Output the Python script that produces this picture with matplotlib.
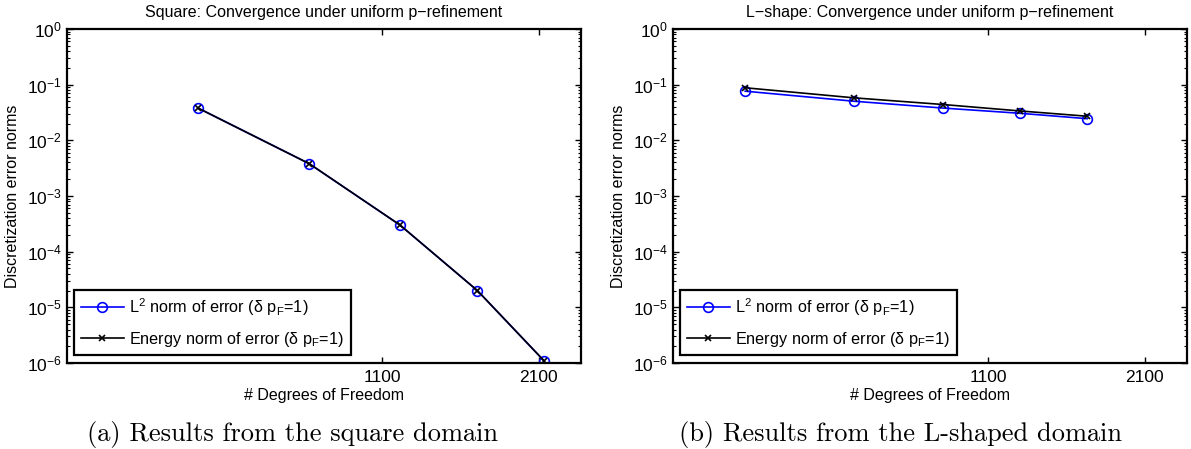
import matplotlib
matplotlib.use("Agg")
import matplotlib.pyplot as plt
from matplotlib.ticker import NullLocator, LogLocator

plt.rcParams['font.family'] = ['Liberation Sans', 'DejaVu Sans']
plt.rcParams['mathtext.default'] = 'regular'
plt.rcParams['font.size'] = 11.5

# datos
dof_square = [515, 815, 1185, 1630, 2145]
l2_square = [0.038, 0.0038, 3.0e-4, 2.0e-5, 1.1e-6]
energy_square = [0.038, 0.0038, 3.0e-4, 2.0e-5, 1.1e-6]

dof_lshape = [404, 633, 914, 1256, 1656]
l2_lshape = [0.0764, 0.0504, 0.038, 0.0306, 0.0245]
energy_lshape = [0.088, 0.058, 0.044, 0.0337, 0.0271]

x_ticks = [1100, 2100]
x_tick_labels = ['1100', '2100']

titles = ['Square: Convergence under uniform p\u2212refinement',
          'L\u2212shape: Convergence under uniform p\u2212refinement']
captions = ['(a) Results from the square domain',
            '(b) Results from the L-shaped domain']
lbl_l2 = 'L$^{2}$ norm of error (\u03b4 p$_{F}$=1)'
lbl_energy = 'Energy norm of error (\u03b4 p$_{F}$=1)'

fig = plt.figure(figsize=(11.91, 4.49), dpi=100)
ax1 = fig.add_axes([0.0563, 0.1915, 0.4316, 0.7439])
ax2 = fig.add_axes([0.5651, 0.1915, 0.4316, 0.7439])

datos = [(ax1, dof_square, l2_square, energy_square),
         (ax2, dof_lshape, l2_lshape, energy_lshape)]

for i, (ax, dof, l2, en) in enumerate(datos):
    ax.loglog(dof, l2, color='blue', marker='o', markersize=7,
              markerfacecolor='none', markeredgewidth=1.2, linewidth=1.2,
              label=lbl_l2)
    ax.loglog(dof, en, color='black', marker='x', markersize=5,
              markeredgewidth=1.2, linewidth=1.2, label=lbl_energy)
    ax.set_xlim(300, 2500)
    ax.set_ylim(1e-6, 1)
    ax.set_xticks(x_ticks, labels=x_tick_labels)
    ax.xaxis.set_minor_locator(NullLocator())
    ax.yaxis.set_major_locator(LogLocator(base=10, numticks=10))
    ax.yaxis.set_minor_locator(LogLocator(base=10, subs=range(2, 10), numticks=20))
    ax.tick_params(which='both', direction='in', top=True, right=True)
    ax.tick_params(which='major', length=4, width=1, labelsize=12.5)
    ax.tick_params(which='minor', length=2, width=0.8)
    ax.tick_params(axis='x', pad=5)
    for s in ax.spines.values():
        s.set_linewidth(1.6)
    ax.set_title(titles[i], fontsize=11.5, pad=9)
    ax.set_xlabel('# Degrees of Freedom', fontsize=11.5, labelpad=2)
    ax.set_ylabel('Discretization error norms', fontsize=11.5, labelpad=5)
    leg = ax.legend(loc='lower left', bbox_to_anchor=(0.0136, 0.024),
                    borderaxespad=0, fancybox=False, framealpha=1,
                    edgecolor='black', fontsize=11.7, handlelength=2.7,
                    handletextpad=0.3, labelspacing=0.7, borderpad=0.4)
    leg.get_frame().set_linewidth(1.6)

fig.text(0.246, 0.033, captions[0], fontfamily='cmr10', fontsize=19,
         ha='center', va='center')
fig.text(0.756, 0.033, captions[1], fontfamily='cmr10', fontsize=19,
         ha='center', va='center')

fig.savefig('out.png', dpi=100)
